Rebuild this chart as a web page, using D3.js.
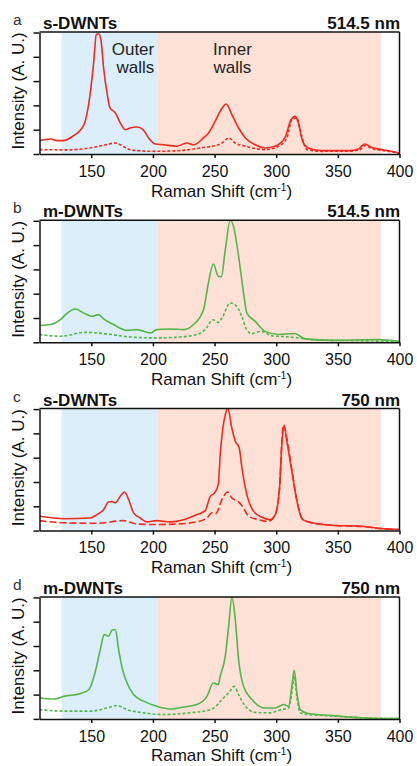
<!DOCTYPE html>
<html lang="en">
<head>
<meta charset="utf-8">
<title>DWNT Raman RBM</title>
<script src="https://d3js.org/d3.v7.min.js"></script>
<style type="text/css">
  body { margin: 0; background: white; }
  svg text { font-family: "Liberation Sans", Arial, sans-serif; fill: #111; }
  .tickLabel text { font-size: 16px; }
  .sample { font-weight: bold; font-size: 17px; }
  .axisTitle { font-size: 17px; }
  .note { font-size: 17px; fill: #222; }
  .letter { font-size: 15.5px; fill: #333; }
</style>
</head>
<body>
<svg></svg>
<script type="text/javascript">

// panel info
const panelLetters = ["a", "b", "c", "d"];
const panelSamples = ["s-DWNTs", "m-DWNTs", "s-DWNTs", "m-DWNTs"];
const panelLasers = ["514.5 nm", "514.5 nm", "750 nm", "750 nm"];
const panelColors = ["#ef2a22", "#55b44a", "#ef2a22", "#55b44a"];

const xTicks = [150, 200, 250, 300, 350, 400];
const yTicks = [0, 1, 2, 3, 4, 5];

// shaded regions (Raman shift, cm-1)
const outerRange = [126, 203.5];
const innerRange = [203.5, 385];

// [Raman shift, intensity]; solid and dashed curve per panel
const aSolid = [[108,0.55],[117,0.62],[122,0.55],[127,0.55],[135,0.73],[144,1.2],[149,2.44],[152,3.8],[154,4.9],[156,4.95],[158,4.64],[160,3.54],[163,2.44],[165,1.92],[169.5,1.69],[173.5,1.28],[177.5,1.0],[181.5,1.07],[187,1.11],[192,1.0],[196.5,0.66],[202,0.41],[208.5,0.38],[219,0.32],[227.5,0.45],[233,0.38],[241,0.66],[245,0.85],[250,1.3],[254.6,1.76],[259.5,2.06],[264,1.62],[269.5,1.07],[275,0.66],[283,0.38],[291,0.25],[299,0.32],[307,0.66],[312,1.41],[315.4,1.55],[318,1.28],[321.4,0.52],[326,0.25],[337,0.14],[359,0.14],[367,0.22],[371.7,0.41],[377.6,0.27],[385.7,0.18],[396.5,0.08],[400,0.02]];
const aDashed = [[108,0.18],[130,0.17],[149,0.25],[160,0.36],[169.5,0.45],[173.5,0.38],[179,0.22],[187,0.14],[202,0.11],[222,0.14],[241,0.27],[252,0.36],[256,0.45],[261.4,0.66],[266.8,0.45],[275,0.32],[291,0.18],[302,0.32],[308.6,0.66],[312.7,1.41],[316.8,1.48],[320.3,0.8],[325,0.18],[337,0.11],[360,0.12],[368,0.18],[372,0.35],[378,0.22],[386,0.15],[400,0.03]];

const bSolid = [[108,0.69],[117,0.73],[125,0.93],[130,1.18],[137,1.37],[144,1.2],[150.5,1.07],[156,1.14],[160,0.96],[168,0.73],[179,0.49],[187,0.52],[198,0.38],[203,0.52],[214,0.55],[225,0.52],[233,0.73],[241,1.34],[245,2.44],[249,3.22],[253,2.72],[255.5,2.7],[258.7,3.81],[262.7,5.02],[265.4,4.77],[269.5,3.54],[273.5,2.03],[276.2,1.2],[283,0.86],[291,0.45],[302,0.32],[315,0.36],[323.5,0.14],[345,0.08],[383,0.11],[400,0.03]];
const bDashed = [[108,0.32],[125,0.25],[145,0.41],[160,0.36],[181.6,0.22],[203,0.18],[222,0.22],[235.6,0.32],[242.4,0.52],[248.6,0.93],[253,0.82],[256,1.0],[262.7,1.62],[268,1.48],[272,1.07],[276,0.52],[280,0.36],[288,0.45],[296.5,0.27],[310,0.22],[318,0.18],[330,0.1],[360,0.07],[400,0.03]];

const cSolid = [[108,0.59],[128,0.49],[149,0.52],[154.6,0.66],[160,0.86],[164,1.18],[166.8,1.2],[169.5,1.14],[173.5,1.41],[177,1.59],[180.3,1.28],[184.3,0.73],[189.7,0.52],[195,0.36],[203,0.41],[214,0.36],[225,0.45],[235.6,0.66],[242.4,0.82],[246.5,1.41],[250,1.55],[253,1.89],[254.6,3.13],[258.7,4.77],[260.8,5.02],[264,4.22],[266.8,3.68],[270,3.4],[272.2,2.58],[276.2,1.48],[281.6,0.8],[288.4,0.55],[295,0.45],[299.2,0.66],[302.7,1.76],[304.6,3.54],[306.5,4.29],[308.6,3.68],[312.7,2.44],[316.8,1.2],[321.4,0.45],[329,0.32],[345,0.22],[369.5,0.18],[385.7,0.08],[400,0.04]];
const cDashed = [[108,0.41],[128,0.32],[154.6,0.3],[176,0.41],[187,0.27],[203,0.25],[219,0.27],[235.6,0.36],[243.8,0.52],[247.8,0.73],[251,0.7],[256,1.28],[260.5,1.59],[264,1.34],[269.5,1.18],[273.5,0.93],[277.6,0.59],[285.7,0.45],[293.8,0.38],[299.2,0.66],[302.7,1.76],[304.6,3.7],[306,4.36],[308.6,3.81],[312.7,2.5],[316.8,1.25],[321.4,0.47],[329,0.32],[345,0.22],[369.5,0.17],[385.7,0.08],[400,0.04]];

const dSolid = [[108,0.86],[120,0.82],[128,0.93],[141,1.04],[148,1.2],[153,1.89],[157.3,2.85],[160.5,3.47],[164,3.4],[166.8,3.65],[169.5,3.68],[172.2,2.85],[175,2.1],[179,1.48],[184.3,1.0],[192.4,0.73],[203,0.52],[214,0.41],[225,0.49],[235.6,0.59],[243.8,0.93],[249,1.48],[253,1.41],[254.6,1.76],[258.7,2.58],[261.4,3.81],[264.1,5.02],[266.8,4.08],[269.5,2.44],[273.5,1.34],[280.3,0.8],[291,0.45],[299.2,0.45],[306,0.59],[310,0.52],[312.7,1.34],[314.6,2.0],[316.8,1.07],[319.5,0.38],[326,0.22],[345,0.14],[372,0.04],[400,0.01]];
const dDashed = [[108,0.38],[128,0.32],[150,0.32],[162.7,0.45],[170.8,0.55],[179,0.38],[189.7,0.27],[208.6,0.18],[230,0.25],[246.5,0.38],[251,0.52],[256,0.8],[261.4,1.07],[266,1.34],[269.5,1.0],[275,0.52],[283,0.27],[294,0.25],[304.6,0.38],[310,0.45],[312.7,1.07],[314.6,1.76],[317,0.8],[319.5,0.25],[326,0.18],[345,0.12],[372,0.04],[400,0.01]];

const solidCurves = [aSolid, bSolid, cSolid, dSolid];
const dashedCurves = [aDashed, bDashed, cDashed, dDashed];
const dashPatterns = ["3,2", "3,2", "7,3", "3,2"];

const svgWidth = 417;
const svgHeight = 766;
const left = 39.5;
const right = 399.5;
const firstBottom = 154;
const panelStep = 188.3;
const plotH = 122;

const svg = d3.select("svg")
  .attr("width", svgWidth)
  .attr("height", svgHeight);

const x = d3.scaleLinear().domain([108, 400]).range([left, right]);

panelLetters.forEach((letter, i) => {
  const bottom = firstBottom + i * panelStep;
  const top = bottom - plotH;
  const y = d3.scaleLinear().domain([0, 5]).range([bottom, top + 0.5]);
  const g = svg.append("g");

  g.append("clipPath").attr("id", "clip" + i)
    .append("rect")
    .attr("x", left).attr("y", top).attr("width", right - left).attr("height", plotH);

  // shaded wall regions
  g.append("rect")
    .attr("x", x(outerRange[0])).attr("y", top)
    .attr("width", x(outerRange[1]) - x(outerRange[0])).attr("height", plotH)
    .attr("fill", "#dbeefa");
  g.append("rect")
    .attr("x", x(innerRange[0])).attr("y", top)
    .attr("width", x(innerRange[1]) - x(innerRange[0])).attr("height", plotH)
    .attr("fill", "#fde1d6");

  const line = d3.line()
    .x(d => x(d[0]))
    .y(d => y(d[1]))
    .curve(d3.curveMonotoneX);

  g.append("path")
    .attr("d", line(dashedCurves[i]))
    .attr("clip-path", "url(#clip" + i + ")")
    .attr("fill", "none")
    .attr("stroke", panelColors[i])
    .attr("stroke-width", 1.6)
    .attr("stroke-dasharray", dashPatterns[i]);

  g.append("path")
    .attr("d", line(solidCurves[i]))
    .attr("clip-path", "url(#clip" + i + ")")
    .attr("fill", "none")
    .attr("stroke", panelColors[i])
    .attr("stroke-width", 1.6);

  // axes
  const xAxis = g.append("g")
    .attr("class", "tickLabel")
    .attr("transform", "translate(0," + bottom + ")")
    .call(d3.axisBottom(x).tickValues(xTicks).tickSize(4).tickPadding(7.5).tickSizeOuter(0));
  xAxis.selectAll("text").attr("fill", "#111");

  g.append("g")
    .attr("transform", "translate(" + left + ",0)")
    .call(d3.axisLeft(y).tickValues(yTicks).tickSize(6).tickFormat("").tickSizeOuter(0));

  g.selectAll(".domain, .tick line").attr("stroke", "#111").attr("stroke-width", 1.5);

  g.append("line")
    .attr("x1", left).attr("x2", right).attr("y1", top).attr("y2", top)
    .attr("stroke", "#111").attr("stroke-width", 1.5);
  g.append("line")
    .attr("x1", right).attr("x2", right).attr("y1", top).attr("y2", bottom)
    .attr("stroke", "#111").attr("stroke-width", 1.5);

  // labels
  g.append("text").attr("class", "letter")
    .attr("x", 13).attr("y", bottom - 129).text(letter);
  g.append("text").attr("class", "sample")
    .attr("x", 43).attr("y", bottom - 125).text(panelSamples[i]);
  g.append("text").attr("class", "sample")
    .attr("x", 400).attr("y", bottom - 125).attr("text-anchor", "end").text(panelLasers[i]);

  g.append("text").attr("class", "axisTitle")
    .attr("transform", "translate(24," + (bottom - 63) + ") rotate(-90)")
    .attr("text-anchor", "middle")
    .text("Intensity (A. U.)");

  const xt = g.append("text").attr("class", "axisTitle")
    .attr("x", (left + right) / 2 + 2).attr("y", bottom + 42.5)
    .attr("text-anchor", "middle");
  xt.append("tspan").text("Raman Shift (cm");
  xt.append("tspan").attr("dy", -6).attr("font-size", "10px").text("-1");
  xt.append("tspan").attr("dy", 6).text(")");

  if (i === 0) {
    const outer = g.append("text").attr("class", "note").attr("text-anchor", "end");
    outer.append("tspan").attr("x", x(outerRange[1]) - 3).attr("y", top + 22.5).text("Outer");
    outer.append("tspan").attr("x", x(outerRange[1]) - 3).attr("y", top + 40.7).text("walls");
    const inner = g.append("text").attr("class", "note").attr("text-anchor", "middle");
    inner.append("tspan").attr("x", x(264.5)).attr("y", top + 22.5).text("Inner");
    inner.append("tspan").attr("x", x(264.5)).attr("y", top + 40.7).text("walls");
  }
});

</script>
</body>
</html>
